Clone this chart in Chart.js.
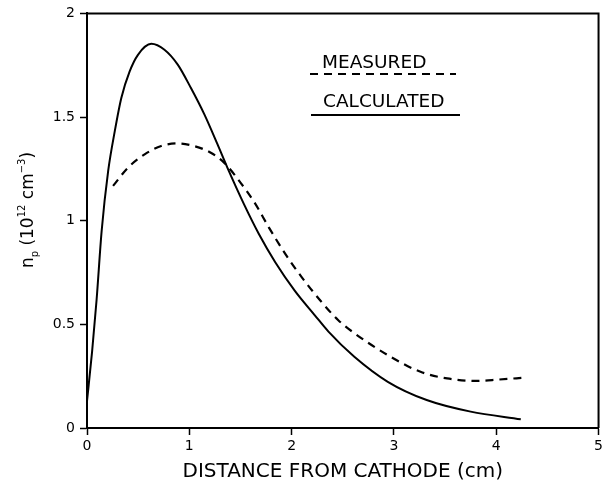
<!DOCTYPE html>
<html>
<head>
<meta charset="utf-8">
<script src="https://cdn.jsdelivr.net/npm/chart.js@4.4.0/dist/chart.umd.min.js"></script>
<style>
  html, body { margin: 0; padding: 0; background: #fff; }
  #wrap { width: 606px; height: 484px; }
</style>
</head>
<body>
<div id="wrap"><canvas id="myChart" width="606" height="484"></canvas></div>
<script>
// calculated curve (solid)
var calcX = [0, 0.05, 0.094, 0.143, 0.207, 0.272, 0.336, 0.417, 0.498, 0.628, 0.757, 0.887, 1.016, 1.146, 1.275, 1.372, 1.534, 1.68, 1.84, 2.03, 2.225, 2.36, 2.61, 2.94, 3.32, 3.75, 4.24]
var calcY = [0.13, 0.37, 0.62, 0.95, 1.24, 1.433, 1.593, 1.72, 1.80, 1.853, 1.825, 1.753, 1.64, 1.514, 1.369, 1.256, 1.08, 0.936, 0.80, 0.663, 0.545, 0.465, 0.345, 0.223, 0.135, 0.079, 0.042]
// measured curve (dashed)
var measX = [0.255, 0.401, 0.563, 0.725, 0.887, 1.049, 1.21, 1.34, 1.50, 1.647, 1.777, 1.938, 2.10, 2.294, 2.456, 2.62, 2.97, 3.26, 3.52, 3.81, 4.03, 4.26]
var measY = [1.168, 1.256, 1.32, 1.36, 1.373, 1.36, 1.328, 1.28, 1.184, 1.08, 0.968, 0.84, 0.727, 0.607, 0.52, 0.455, 0.343, 0.271, 0.239, 0.227, 0.234, 0.242]

var xTicks = [0, 1, 2, 3, 4, 5]
var yTicks = [0, 0.5, 1, 1.5, 2]
var legendLabels = ["MEASURED", "CALCULATED"]

function pts(xs, ys){
	var out = []
	for (var i = 0; i < xs.length; i++) out.push({x: xs[i], y: ys[i]})
	return out
}

var FONT = "'DejaVu Sans', sans-serif"

// box frame, y title with sub/superscripts, and the hand-drawn legend
var decor = {
	id: "decor",
	afterDraw: function(chart){
		var c = chart.ctx, a = chart.chartArea
		c.save()
		c.strokeStyle = "#000"
		c.lineWidth = 2
		c.beginPath()
		c.moveTo(a.left, a.top)
		c.lineTo(a.right, a.top)
		c.lineTo(a.right, a.bottom)
		c.stroke()

		// legend
		c.fillStyle = "#000"
		c.font = "18.5px " + FONT
		c.textBaseline = "middle"
		c.fillText(legendLabels[0], 322, 63)
		c.fillText(legendLabels[1], 323, 102)
		c.lineWidth = 2.2
		c.setLineDash([8, 6])
		c.beginPath(); c.moveTo(310, 74); c.lineTo(456, 74); c.stroke()
		c.setLineDash([])
		c.lineWidth = 2
		c.beginPath(); c.moveTo(311, 115); c.lineTo(460, 115); c.stroke()

		// y title
		c.translate(27, 210)
		c.rotate(-Math.PI / 2)
		c.textBaseline = "alphabetic"
		c.textAlign = "left"
		var parts = [
			["n", 17, 0], ["p", 10, 5], [" (10", 17, 0], ["12", 10, -8],
			[" cm", 17, 0], ["\u22123", 10, -8], [")", 17, 0]
		]
		var total = 0
		parts.forEach(function(p){ c.font = p[1] + "px " + FONT; total += c.measureText(p[0]).width })
		var x = -total / 2
		parts.forEach(function(p){
			c.font = p[1] + "px " + FONT
			c.fillText(p[0], x, 6 + p[2])
			x += c.measureText(p[0]).width
		})
		c.restore()
	}
}

var ctx = document.getElementById("myChart")
var myChart = new Chart(ctx, {
	type: 'scatter',
	data: {
		datasets: [{
			label: legendLabels[0],
			data: pts(measX, measY),
			showLine: true,
			borderColor: "#000",
			borderWidth: 2.2,
			borderDash: [8, 6],
			pointRadius: 0,
			cubicInterpolationMode: 'monotone'
		}, {
			label: legendLabels[1],
			data: pts(calcX, calcY),
			showLine: true,
			borderColor: "#000",
			borderWidth: 2,
			pointRadius: 0,
			cubicInterpolationMode: 'monotone'
		}]
	},
	options: {
		responsive: false,
		animation: false,
		layout: { padding: { top: 12, right: 4, left: 0, bottom: 0 } },
		plugins: { legend: { display: false }, tooltip: { enabled: false } },
		scales: {
			x: {
				min: 0, max: 5,
				afterBuildTicks: function(s){ s.ticks = xTicks.map(function(v){ return {value: v} }) },
				afterFit: function(s){ s.height = 56 },
				grid: { drawOnChartArea: false, tickLength: 7, tickColor: "#000", tickWidth: 1.5 },
				border: { color: "#000", width: 2 },
				ticks: { color: "#000", padding: 3, font: { family: FONT, size: 14 }, maxRotation: 0 },
				title: { display: true, text: "DISTANCE FROM CATHODE (cm)", color: "#000", font: { family: FONT, size: 20 }, padding: { top: 0, bottom: 0 } }
			},
			y: {
				min: 0, max: 2,
				afterBuildTicks: function(s){ s.ticks = yTicks.map(function(v){ return {value: v} }) },
				afterFit: function(s){ s.width = 87 },
				grid: { drawOnChartArea: false, tickLength: 7, tickColor: "#000", tickWidth: 1.5 },
				border: { color: "#000", width: 2 },
				ticks: { color: "#000", padding: 5, font: { family: FONT, size: 14 },
					callback: function(v){ return String(v) } }
			}
		}
	},
	plugins: [decor]
})
</script>
</body>
</html>
